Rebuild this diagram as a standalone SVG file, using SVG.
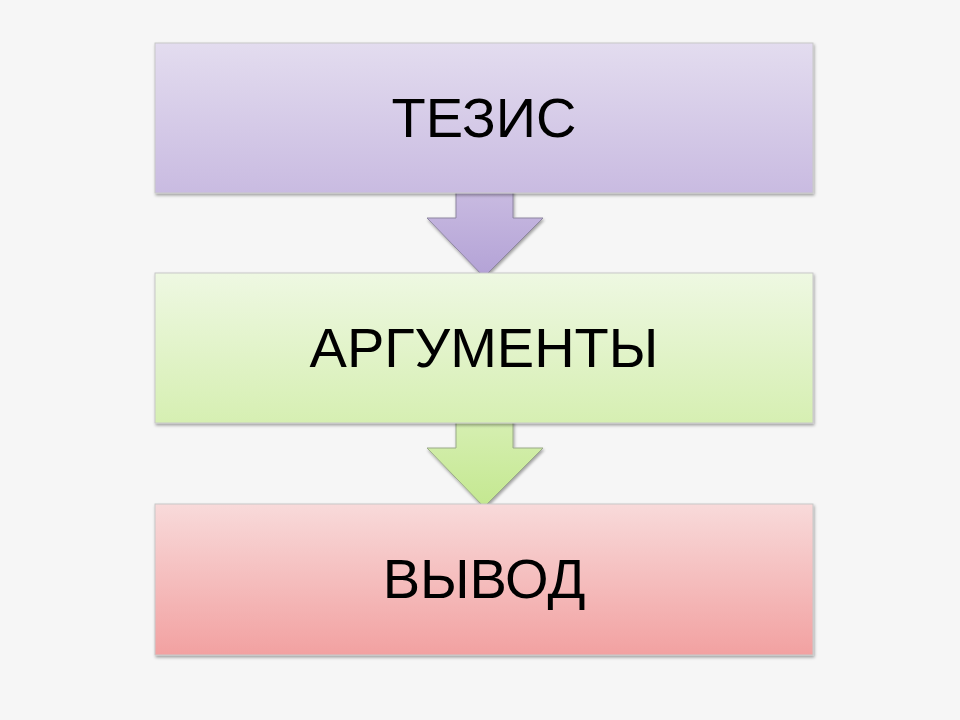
<svg xmlns="http://www.w3.org/2000/svg" width="960" height="720" viewBox="0 0 960 720">
<defs>
<linearGradient id="gp" x1="0" y1="0" x2="0" y2="1"><stop offset="0" stop-color="#e3dcef"/><stop offset="1" stop-color="#c9bbe1"/></linearGradient>
<linearGradient id="gpa" x1="0" y1="0" x2="0" y2="1"><stop offset="0" stop-color="#c9bbe1"/><stop offset="1" stop-color="#b3a2d6"/></linearGradient>
<linearGradient id="gg" x1="0" y1="0" x2="0" y2="1"><stop offset="0" stop-color="#eef8e2"/><stop offset="1" stop-color="#d6efb2"/></linearGradient>
<linearGradient id="gga" x1="0" y1="0" x2="0" y2="1"><stop offset="0" stop-color="#d6efb2"/><stop offset="1" stop-color="#c4e890"/></linearGradient>
<linearGradient id="gr" x1="0" y1="0" x2="0" y2="1"><stop offset="0" stop-color="#f8dada"/><stop offset="1" stop-color="#f2a1a1"/></linearGradient>
<filter id="sh" x="-5%" y="-5%" width="110%" height="115%"><feDropShadow dx="1" dy="2" stdDeviation="1.5" flood-color="#000" flood-opacity="0.35"/></filter>
</defs>
<style>
.b{stroke:#c8c8c8;stroke-width:1;filter:url(#sh)}
.t{font-family:"Liberation Sans",Arial,sans-serif;font-size:56px;text-anchor:middle;fill:#000}
</style>
<rect width="960" height="720" fill="#f6f6f6"/>
<g id="connectors">
<path d="M456 190 H513 V218 H543 L484 277 L427 218 H456 Z" fill="url(#gpa)" stroke="#8e86a0" stroke-width="1" filter="url(#sh)"/>
<path d="M456 420 H513 V448 H543 L484 507 L427 448 H456 Z" fill="url(#gga)" stroke="#9aaa88" stroke-width="1" filter="url(#sh)"/>
</g>
<g id="n1"><rect class="b" x="155" y="43" width="658" height="150" fill="url(#gp)"/><text class="t" x="484" y="137">ТЕЗИС</text></g>
<g id="n2"><rect class="b" x="155" y="273" width="658" height="150" fill="url(#gg)"/><text class="t" x="484" y="367">АРГУМЕНТЫ</text></g>
<g id="n3"><rect class="b" x="155" y="504" width="658" height="151" fill="url(#gr)"/><text class="t" x="484" y="598">ВЫВОД</text></g>
</svg>
